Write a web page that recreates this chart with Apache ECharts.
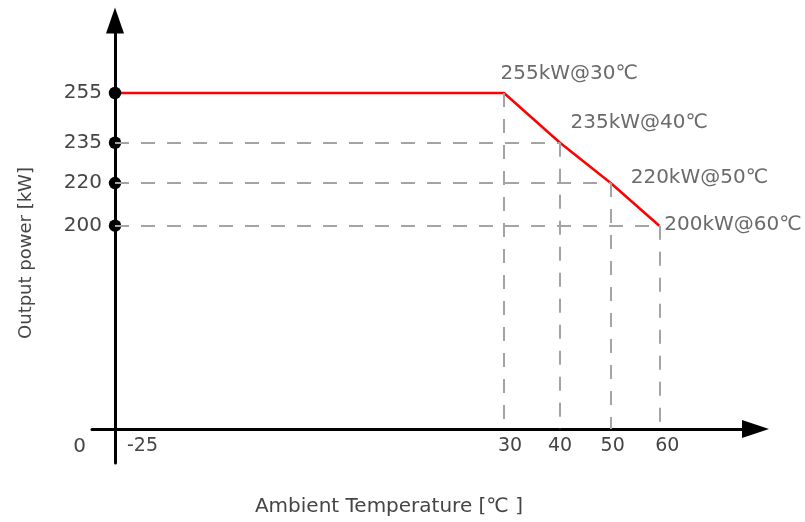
<!DOCTYPE html>
<html>
<head>
<meta charset="utf-8">
<script src="https://cdn.jsdelivr.net/npm/echarts@6/dist/echarts.min.js"></script>
<style>html,body{margin:0;padding:0;background:#fff;}#chart{width:805px;height:522px;}</style>
</head>
<body>
<div id="chart"></div>
<script>
// ---- data ----
const temps = [-25, 30, 40, 50, 60];
const powers = [255, 255, 235, 220, 200];
const xTickValues = [-25, 30, 40, 50, 60];
const yTickValues = [0, 200, 220, 235, 255];
const xAxisName = 'Ambient Temperature [℃ ]';
const yAxisName = 'Output power [kW]';

// ---- style: schematic (non-uniform) axis spacing via axis breaks, label offsets ----
const xBreaks = [
  { start: -20, end: 25, gap: 70.04 },
  { start: 32, end: 38, gap: 7.52 },
  { start: 42, end: 48, gap: 6.43 }
];
const yBreaks = [
  { start: 10, end: 190, gap: 75.35 },
  { start: 222, end: 233, gap: 14.9 },
  { start: 237, end: 253, gap: 19.35 }
];
const annotOffsets = [[-4, -19], [10, -19.5], [19.5, -5.5], [4.5, -0.5]];
const xLabelPadLeft = { '-25': 55, '30': 12, '40': 0, '50': 4, '60': 16 };
const FONT = 'DejaVu Sans';
const TXT = '#454545';

const pts = temps.map((t, i) => [t, powers[i]]);
const xMin = temps[0];

// dashed guide lines
const guides = [];
pts.slice(1).forEach(([t, p], i) => {
  if (i > 0) guides.push([{ coord: [xMin, p] }, { coord: [t, p] }]);
  guides.push([{ coord: [t, p] }, { coord: [t, 0] }]);
});

const xRich = {};
xTickValues.forEach((v, i) => {
  xRich['x' + i] = { padding: [0, 0, 0, xLabelPadLeft[String(v)] || 0], color: TXT, fontFamily: FONT, fontSize: 19 };
});

const chart = echarts.init(document.getElementById('chart'), null, { renderer: 'canvas' });
chart.setOption({
  animation: false,
  backgroundColor: '#fff',
  grid: [
    { left: 115, right: 97.1, top: 61, bottom: 93 },
    { left: 115, top: 20.5, bottom: 59, width: 10 },
    { left: 92, right: 49.5, bottom: 93, height: 10 }
  ],
  xAxis: [
    {
      gridIndex: 0, type: 'value', min: -25, max: 70,
      breaks: xBreaks,
      breakArea: { show: false },
      axisLine: { show: false }, axisTick: { show: false }, splitLine: { show: false },
      axisLabel: {
        customValues: xTickValues, margin: 8, color: TXT, fontFamily: FONT, fontSize: 19,
        formatter: v => '{x' + xTickValues.indexOf(v) + '|' + v + '}',
        rich: xRich
      },
      name: xAxisName, nameLocation: 'middle', nameGap: 68,
      nameTextStyle: { color: TXT, fontFamily: FONT, fontSize: 20, padding: [0, 45, 0, 0] }
    },
    { gridIndex: 1, type: 'value', min: 0, max: 1, show: false },
    {
      gridIndex: 2, type: 'value', min: 0, max: 1,
      axisLine: { show: true, onZero: false, symbol: ['none', 'triangle'], symbolSize: [18, 27], lineStyle: { color: '#000', width: 3 } },
      axisTick: { show: false }, axisLabel: { show: false }, splitLine: { show: false }
    }
  ],
  yAxis: [
    {
      gridIndex: 0, type: 'value', min: 0, max: 270,
      breaks: yBreaks,
      breakArea: { show: false },
      axisLine: { show: false }, axisTick: { show: false }, splitLine: { show: false },
      axisLabel: {
        customValues: yTickValues, margin: 13, color: TXT, fontFamily: FONT, fontSize: 20,
        formatter: v => v === 0 ? '{z|0}' : String(v),
        rich: { z: { padding: [36, 16, 0, 0], color: TXT, fontFamily: FONT, fontSize: 20 } }
      },
      name: yAxisName, nameLocation: 'middle', nameGap: 80,
      nameTextStyle: { color: TXT, fontFamily: FONT, fontSize: 18, padding: [0, 16, 0, 0] }
    },
    {
      gridIndex: 1, type: 'value', min: 0, max: 1,
      axisLine: { show: true, onZero: false, symbol: ['none', 'triangle'], symbolSize: [18, 26], lineStyle: { color: '#000', width: 3 } },
      axisTick: { show: false }, axisLabel: { show: false }, splitLine: { show: false }
    },
    { gridIndex: 2, type: 'value', min: 0, max: 1, show: false }
  ],
  series: [
    {
      type: 'line', xAxisIndex: 0, yAxisIndex: 0, data: [], z: 1, silent: true,
      markLine: {
        silent: true, symbol: ['none', 'none'], label: { show: false },
        lineStyle: { color: '#a4a4a4', width: 2, type: [14, 12] },
        data: guides
      }
    },
    {
      type: 'line', xAxisIndex: 0, yAxisIndex: 0, data: pts, z: 3, clip: false,
      symbol: 'none', lineStyle: { color: '#ff0000', width: 2.5 }
    },
    {
      type: 'scatter', xAxisIndex: 0, yAxisIndex: 0, z: 4, clip: false,
      symbolSize: 12.5, itemStyle: { color: '#000', opacity: 1 },
      data: yTickValues.filter(v => v > 0).map(v => [xMin, v])
    },
    {
      type: 'scatter', xAxisIndex: 0, yAxisIndex: 0, z: 5, clip: false, silent: true,
      symbolSize: 1, itemStyle: { color: 'rgba(0,0,0,0)' },
      data: pts.slice(1).map((p, i) => ({
        value: p,
        label: {
          show: true, position: 'right', distance: 0, offset: annotOffsets[i],
          formatter: p[1] + 'kW@' + p[0] + '℃',
          color: TXT, fontFamily: FONT, fontSize: 20
        }
      }))
    }
  ]
});
</script>
</body>
</html>
